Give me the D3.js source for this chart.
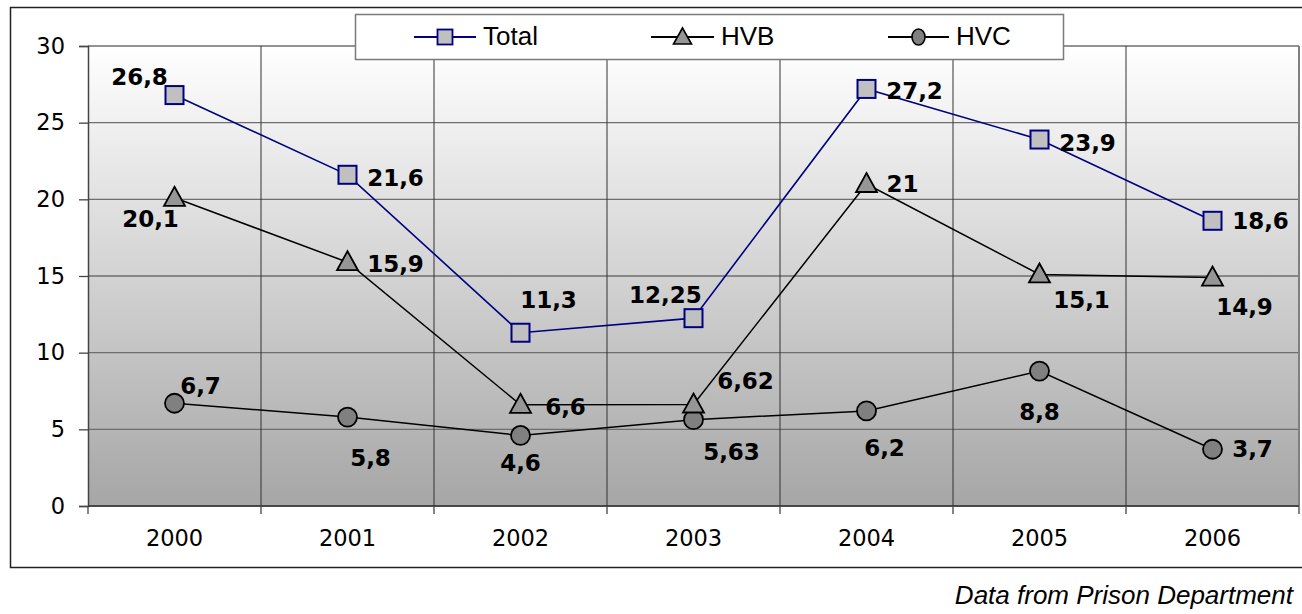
<!DOCTYPE html>
<html>
<head>
<meta charset="utf-8">
<script src="https://cdn.jsdelivr.net/npm/d3@7"></script>
<style>
  body { margin: 0; background: #fff; }
  svg { display: block; }
</style>
</head>
<body>
<div id="chart-mount"></div>
<script>
var WIDTH = 1302;
var HEIGHT = 614;

var YEARS = ['2000', '2001', '2002', '2003', '2004', '2005', '2006'];
var TOTAL = [26.8, 21.6, 11.3, 12.25, 27.2, 23.9, 18.6];
var HVB = [20.1, 15.9, 6.6, 6.62, 21, 15.1, 14.9];
var HVC = [6.7, 5.8, 4.6, 5.63, 6.2, 8.8, 3.7];
var Y_TICKS = [0, 5, 10, 15, 20, 25, 30];
var SOURCE_NOTE = 'Data from Prison Department';

// where each value label sits relative to its point (dx, dy of text center)
var TOTAL_LABEL_POS = [[-35, -18], [48, 3], [28, -33], [-28, -23], [48, 2], [48, 3], [48, 0]];
var HVB_LABEL_POS = [[-24, 21], [48, 2], [45, 2], [52, -23], [36, 0], [42, 26], [32, 29]];
var HVC_LABEL_POS = [[26, -17], [23, 41], [0, 28], [38, 32], [18, 37], [0, 41], [40, 0]];

var margin = { left: 88, top: 46, right: 3, bottom: 108 };
var plotW = 1299 - margin.left;
var plotH = 506 - margin.top;

var x = d3.scaleBand().domain(YEARS).range([0, plotW]);
var y = d3.scaleLinear().domain([0, 30]).range([plotH, 0]);

var svg = d3.select('#chart-mount').append('svg')
  .attr('width', WIDTH)
  .attr('height', HEIGHT);

var defs = svg.append('defs');
var grad = defs.append('linearGradient')
  .attr('id', 'bg-grad')
  .attr('x1', 0).attr('y1', 0).attr('x2', 0).attr('y2', 1);
grad.append('stop').attr('offset', '0%').attr('stop-color', '#ffffff');
grad.append('stop').attr('offset', '100%').attr('stop-color', '#a6a6a6');

// outer chart frame
svg.append('rect')
  .attr('x', 10.5).attr('y', 7.5)
  .attr('width', 1320).attr('height', 560)
  .attr('fill', '#fff')
  .attr('stroke', '#222')
  .attr('stroke-width', 1.5);

var g = svg.append('g')
  .attr('transform', 'translate(' + margin.left + ',' + margin.top + ')');

g.append('rect')
  .attr('width', plotW)
  .attr('height', plotH)
  .attr('fill', 'url(#bg-grad)');

// horizontal grid
g.selectAll('.hgrid')
  .data(Y_TICKS)
  .enter().append('line')
    .attr('x1', 0).attr('x2', plotW)
    .attr('y1', function (d) { return y(d); })
    .attr('y2', function (d) { return y(d); })
    .attr('stroke', '#6e6e6e')
    .attr('stroke-width', 1.3);

// vertical grid at category boundaries
g.selectAll('.vgrid')
  .data(YEARS.slice(1))
  .enter().append('line')
    .attr('x1', function (d) { return x(d); })
    .attr('x2', function (d) { return x(d); })
    .attr('y1', 0).attr('y2', plotH)
    .attr('stroke', '#333')
    .attr('stroke-width', 1);

g.append('line')
  .attr('x1', plotW).attr('x2', plotW)
  .attr('y1', 0).attr('y2', plotH)
  .attr('stroke', '#808080')
  .attr('stroke-width', 2);

// y axis
var yAxis = d3.axisLeft(y).tickValues(Y_TICKS).tickSize(9).tickPadding(14);
var yg = g.append('g').call(yAxis);
yg.select('.domain').attr('stroke', '#444').attr('stroke-width', 1.5);
yg.selectAll('.tick line').attr('stroke', '#444').attr('stroke-width', 1.3);
yg.selectAll('text')
  .attr('font-family', 'DejaVu Sans, Verdana, sans-serif')
  .attr('font-size', 22.5)
  .attr('fill', '#000');

// x axis
var xAxis = d3.axisBottom(x).tickSize(0).tickPadding(24);
var xg = g.append('g').attr('transform', 'translate(0,' + plotH + ')').call(xAxis);
xg.select('.domain').remove();
xg.selectAll('text')
  .attr('font-family', 'DejaVu Sans, Verdana, sans-serif')
  .attr('font-size', 22.5)
  .attr('fill', '#000');
xg.append('line')
  .attr('x1', 0).attr('x2', plotW)
  .attr('stroke', '#333').attr('stroke-width', 1.5);
xg.selectAll('.xtick')
  .data(YEARS.concat(['end']))
  .enter().append('line')
    .attr('x1', function (d, i) { return i * x.step(); })
    .attr('x2', function (d, i) { return i * x.step(); })
    .attr('y1', 0).attr('y2', 8)
    .attr('stroke', '#444').attr('stroke-width', 1.3);

var line = d3.line()
  .x(function (d, i) { return x(YEARS[i]) + x.bandwidth() / 2; })
  .y(function (d) { return y(d); });

function cx (i) { return x(YEARS[i]) + x.bandwidth() / 2; }

function drawMarker (sel, kind, px, py) {
  if (kind === 'square') {
    sel.append('rect')
      .attr('x', px - 9).attr('y', py - 9)
      .attr('width', 18).attr('height', 18)
      .attr('fill', '#c0c0c0')
      .attr('stroke', '#000080')
      .attr('stroke-width', 2);
  } else if (kind === 'triangle') {
    sel.append('path')
      .attr('d', 'M' + px + ',' + (py - 11) + 'L' + (px + 10.5) + ',' + (py + 8) + 'L' + (px - 10.5) + ',' + (py + 8) + 'Z')
      .attr('fill', '#969696')
      .attr('stroke', '#000')
      .attr('stroke-width', 1.8);
  } else {
    sel.append('circle')
      .attr('cx', px).attr('cy', py).attr('r', 9.5)
      .attr('fill', '#808080')
      .attr('stroke', '#000')
      .attr('stroke-width', 1.8);
  }
}

var series = [
  { values: HVC, color: '#000', width: 1.5, marker: 'circle', labels: HVC_LABEL_POS },
  { values: HVB, color: '#000', width: 1.5, marker: 'triangle', labels: HVB_LABEL_POS },
  { values: TOTAL, color: '#000080', width: 1.6, marker: 'square', labels: TOTAL_LABEL_POS }
];

series.forEach(function (s) {
  g.append('path')
    .datum(s.values)
    .attr('d', line)
    .attr('fill', 'none')
    .attr('stroke', s.color)
    .attr('stroke-width', s.width);
  var mg = g.append('g');
  s.values.forEach(function (v, i) {
    drawMarker(mg, s.marker, cx(i), y(v));
  });
});

series.forEach(function (s) {
  g.selectAll(null)
    .data(s.values)
    .enter().append('text')
      .attr('x', function (d, i) { return cx(i) + s.labels[i][0]; })
      .attr('y', function (d, i) { return y(d) + s.labels[i][1]; })
      .attr('text-anchor', 'middle')
      .attr('dominant-baseline', 'central')
      .attr('font-family', 'DejaVu Sans, Verdana, sans-serif')
      .attr('font-weight', 'bold')
      .attr('font-size', 23)
      .attr('fill', '#000')
      .text(function (d) { return String(d).replace('.', ','); });
});

// legend
var legend = svg.append('g');
legend.append('rect')
  .attr('x', 355.5).attr('y', 14.5)
  .attr('width', 708).attr('height', 45)
  .attr('fill', '#fff')
  .attr('stroke', '#7a7a7a')
  .attr('stroke-width', 1.5);

var legendItems = [
  { name: 'Total', color: '#000080', marker: 'square', x0: 414, x1: 476 },
  { name: 'HVB', color: '#000', marker: 'triangle', x0: 651, x1: 714 },
  { name: 'HVC', color: '#000', marker: 'circle', x0: 888, x1: 949 }
];
legendItems.forEach(function (d) {
  var ly = 37;
  var mx = (d.x0 + d.x1) / 2;
  legend.append('line')
    .attr('x1', d.x0).attr('x2', d.x1)
    .attr('y1', ly).attr('y2', ly)
    .attr('stroke', d.color).attr('stroke-width', 1.8);
  if (d.marker === 'square') {
    legend.append('rect')
      .attr('x', mx - 7.5).attr('y', ly - 7.5)
      .attr('width', 15).attr('height', 15)
      .attr('fill', '#c0c0c0').attr('stroke', '#000080').attr('stroke-width', 1.8);
  } else if (d.marker === 'triangle') {
    legend.append('path')
      .attr('d', 'M' + mx + ',' + (ly - 9) + 'L' + (mx + 9) + ',' + (ly + 7) + 'L' + (mx - 9) + ',' + (ly + 7) + 'Z')
      .attr('fill', '#969696').attr('stroke', '#000').attr('stroke-width', 1.6);
  } else {
    legend.append('ellipse')
      .attr('cx', mx).attr('cy', ly)
      .attr('rx', 6.5).attr('ry', 8)
      .attr('fill', '#808080').attr('stroke', '#000').attr('stroke-width', 1.6);
  }
  legend.append('text')
    .attr('x', d.x1 + 7)
    .attr('y', ly + 8)
    .attr('font-family', 'Liberation Sans, Arial, sans-serif')
    .attr('font-size', 26)
    .attr('fill', '#000')
    .text(d.name);
});

svg.append('text')
  .attr('x', 1293)
  .attr('y', 604)
  .attr('text-anchor', 'end')
  .attr('font-family', 'Liberation Sans, Arial, sans-serif')
  .attr('font-style', 'italic')
  .attr('font-size', 26)
  .attr('fill', '#000')
  .text(SOURCE_NOTE);
</script>
</body>
</html>
